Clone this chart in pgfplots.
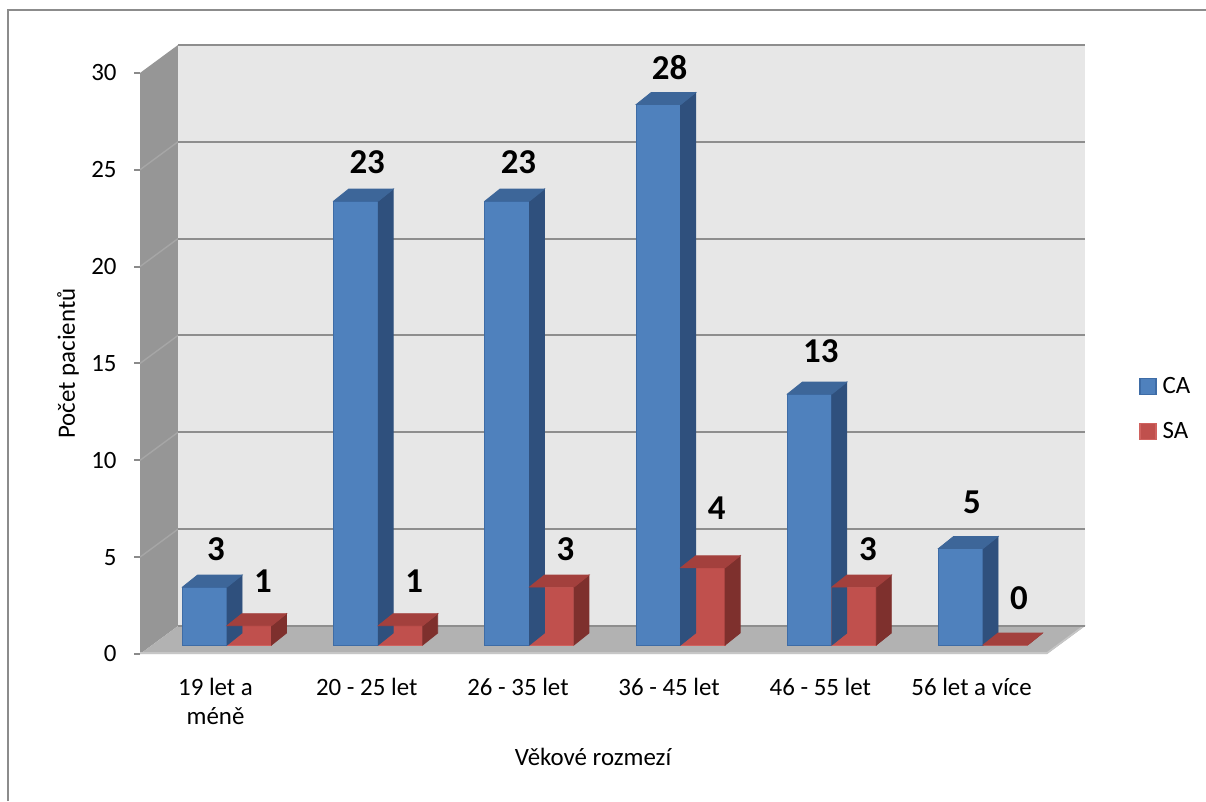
\documentclass[border=0pt]{standalone}
\usepackage{fontspec}
\setmainfont{Carlito}
\usepackage{pgfplots}
\usepackage{pgfplotstable}
\pgfplotsset{compat=1.18}
\pgfplotsset{/pgf/number format/assume math mode=true}

\definecolor{wallback}{HTML}{E7E7E7}
\definecolor{sidewall}{HTML}{969696}
\definecolor{sidegrid}{HTML}{A6A6A6}
\definecolor{floorgrey}{HTML}{B2B2B2}
\definecolor{flooredge}{HTML}{C6C6C6}
\definecolor{gridgrey}{HTML}{8E8E8E}
\definecolor{tickgrey}{HTML}{8A8A8A}
\definecolor{framegrey}{HTML}{8C8C8C}
\definecolor{cafront}{HTML}{4F81BD}
\definecolor{catop}{HTML}{3D6699}
\definecolor{caside}{HTML}{2F507D}
\definecolor{caedge}{HTML}{3E6CA6}
\definecolor{safront}{HTML}{C0504D}
\definecolor{satop}{HTML}{A3403D}
\definecolor{saside}{HTML}{7E302D}
\definecolor{saedge}{HTML}{D0625F}

\newcommand\txtfont{\fontsize{12.5}{14.5}\selectfont}
\newcommand\valfont{\fontsize{17.5}{20}\selectfont\bfseries}

\pgfdeclareplotmark{nothing}{}

% top and side faces of a bar, drawn from the bar's value
% #1 bar shift (bp), #2 top colour, #3 side colour
\pgfplotsset{
  cube faces/.style n args={3}{
    only marks, mark=nothing, forget plot,
    visualization depends on={y \as \barval},
    scatter,
    scatter/@pre marker code/.code={%
      \pgfmathsetmacro\barh{\barval*9.65}%
      \fill[#3] (#1bp+11.125bp,0bp) -- ++(7.5bp,6bp) -- ++(0bp,-\barh bp)
        -- ++(-7.5bp,-6bp) -- cycle;
      \fill[#2] (#1bp-11.125bp,0bp) -- ++(7.5bp,6bp) -- ++(22.25bp,0bp)
        -- ++(-7.5bp,-6bp) -- cycle;
    },
    scatter/@post marker code/.code={},
  },
  square legend/.style={
    legend image code/.code={\draw[##1, line width=0.6bp] (0bp,-4bp) rectangle (8bp,4bp);}
  },
}

% age group, CA, SA, label offsets (bp)
\pgfplotstableread{
x  ca  sa  oca   osa
0  3   1   18.8  22.4
1  23  1   19.5  22.4
2  23  3   19.5  19.0
3  28  4   18.3  30.0
4  13  3   21.5  19.0
5  5   0   23.2  23.5
}\agedata

\begin{document}
\begin{tikzpicture}[x=0.5bp,y=0.5bp]
\useasboundingbox (0,0) rectangle (1206,801);
\fill[white] (0,0) rectangle (1206,801);
\draw[framegrey, line width=1.2bp] (8,0) -- (8,791) -- (1206,791);

% side wall and floor
\fill[sidewall] (140,147) -- (178,175) -- (178,756) -- (140,728) -- cycle;
\foreach \v in {5,10,...,25}
  \draw[sidegrid, line width=0.7bp] (140,{147+19.37*\v}) -- (178,{175+19.37*\v});
\fill[floorgrey] (140,147) -- (1047,147) -- (1085,175) -- (178,175) -- cycle;
\draw[flooredge, line width=0.8bp] (140,148) -- (1047,148) -- (1085,176);

% back wall with gridlines
\begin{axis}[
  at={(89bp,87.5bp)}, anchor=south west,
  x=453.5bp, y=9.6833bp,
  xmin=0, xmax=1, ymin=0, ymax=30,
  axis background/.style={fill=wallback},
  axis line style={draw=none},
  xtick=\empty, ytick={0,5,...,30}, yticklabels={},
  major tick length=0pt,
  ymajorgrids,
  major grid style={gridgrey, line width=1bp},
]
\end{axis}

% value axis on the front edge of the side wall
\begin{axis}[
  at={(70bp,73.5bp)}, anchor=south west,
  x=100bp, y=9.685bp,
  xmin=0, xmax=1, ymin=0, ymax=30,
  axis x line=none, axis y line*=left,
  y axis line style={draw=none},
  ytick={0,5,...,30},
  tick align=outside, major tick length=3bp,
  ytick style={tickgrey, line width=1bp},
  yticklabel style={font=\txtfont, inner sep=0pt, anchor=east, xshift=-8.5bp},
  ylabel={Počet pacientů},
  ylabel style={at={(axis description cs:-0.36,0.5)}, anchor=center, font=\txtfont},
]
\end{axis}

% bars
\begin{axis}[
  at={(75.7bp,78bp)}, anchor=south west,
  x=75.6bp, y=9.65bp,
  xmin=-0.5, xmax=5.5, ymin=0, ymax=30,
  clip=false,
  axis line style={draw=none},
  major tick length=0pt,
  ytick=\empty,
  xtick={0,...,5},
  xticklabels={{19 let a\\méně},{20 - 25 let},{26 - 35 let},{36 - 45 let},{46 - 55 let},{56 let a více}},
  xticklabel style={align=center, anchor=north, inner sep=0pt, xshift=-5.75bp, yshift=-16.5bp, font=\txtfont},
  xlabel={Věkové rozmezí},
  xlabel style={at={(axis description cs:0.4868,-0.1934)}, anchor=center, font=\txtfont},
  legend style={at={(1.0886,0.4638)}, anchor=north west, draw=none, fill=none,
    inner sep=0pt, row sep=13bp, column sep=3bp, font=\txtfont,
    nodes={inner sep=0pt}},
  legend cell align=left,
  nodes near coords style={font=\valfont, text=black, anchor=center},
]
\addplot[cube faces={-11.125}{catop}{caside}] table[x=x, y=ca] {\agedata};
\addplot[ybar, bar width=22.25bp, bar shift=-11.125bp,
  fill=cafront, draw=caedge, line width=0.5bp, square legend,
  nodes near coords,
  visualization depends on={\thisrow{oca} \as \laboff},
  nodes near coords style={xshift=-5.5bp, yshift=\laboff bp}]
  table[x=x, y=ca] {\agedata};
\addlegendentry{CA}
\addplot[cube faces={11.125}{satop}{saside}] table[x=x, y=sa] {\agedata};
\addplot[ybar, bar width=22.25bp, bar shift=11.125bp,
  fill=safront, draw=saedge, line width=0.5bp, square legend,
  nodes near coords,
  visualization depends on={\thisrow{osa} \as \laboff},
  nodes near coords style={xshift=18bp, yshift=\laboff bp}]
  table[x=x, y=sa] {\agedata};
\addlegendentry{SA}
\end{axis}
\end{tikzpicture}
\end{document}
